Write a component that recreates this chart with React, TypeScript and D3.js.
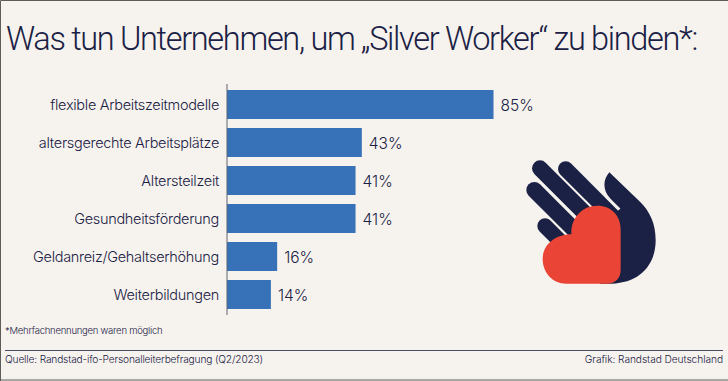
import React from "react";
import * as d3 from "d3";

const categories = ["flexible Arbeitszeitmodelle", "altersgerechte Arbeitsplätze", "Altersteilzeit", "Gesundheitsförderung", "Geldanreiz/Gehaltserhöhung", "Weiterbildungen"];
const values = [85, 43, 41, 41, 16, 14];
const valueLabels = ["85%", "43%", "41%", "41%", "16%", "14%"];
const title = "Was tun Unternehmen, um „Silver Worker“ zu binden*:";
const note = "*Mehrfachnennungen waren möglich";
const source = "Quelle: Randstad-ifo-Personalleiterbefragung (Q2/2023)";
const credit = "Grafik: Randstad Deutschland";

const NAVY = "#1b2145";
const BLUE = "#3771b7";
const RED = "#e94435";
const BG = "#f6f3ee";
const FONT = "Inter, 'Noto Sans', sans-serif";

export default function App() {
  const x = d3.scaleLinear().domain([0, 85]).range([227, 493.5]);
  const y = d3.scaleBand<string>().domain(categories).range([85.5, 313.5]).paddingInner(0.237).paddingOuter(0.1185);
  const fingers: [number, number, number, number, number][] = [
    [197, 87, 345, 235, 46],
    [120, 85, 270, 235, 48],
    [103, 150, 240, 287, 48],
    [135, 258, 200, 323, 46],
  ];
  return (
    <svg width={728} height={381} viewBox="0 0 728 381" style={{ position: "fixed", left: 0, top: 0, display: "block", fontFamily: FONT }}>
      <rect x={0} y={0} width={728} height={381} fill={BG} />
      <path d="M0.5 381V0.5H728M0 380H728" fill="none" stroke="#5c5c58" strokeWidth={1} />
      <text x={6} y={49.5} fontSize={32.5} fontWeight={300} fill={NAVY} letterSpacing={-1.32} style={{ fontFamily: "Roboto, Inter, sans-serif" }}>{title}</text>
      {categories.map((c, i) => (
        <g key={c}>
          <text x={219} y={y(c)! + y.bandwidth() / 2 + 5} textAnchor="end" fontSize={14.5} fontWeight={300} fill={NAVY} letterSpacing={-0.3}>{c}</text>
          <rect x={x(0)} y={y(c)} width={x(values[i]) - x(0)} height={y.bandwidth()} fill={BLUE} />
          <text x={x(values[i]) + 7} y={y(c)! + y.bandwidth() / 2 + 6} fontSize={15.5} fontWeight={300} fill={NAVY}>{valueLabels[i]}</text>
        </g>
      ))}
      <line x1={227} x2={227} y1={84} y2={315} stroke="#5d6470" strokeWidth={1} />
      <text x={5} y={334} fontSize={9.5} fontWeight={300} fill={NAVY} letterSpacing={-0.24}>{note}</text>
      <line x1={5} x2={723} y1={350.5} y2={350.5} stroke="#4a4d60" strokeWidth={1} />
      <text x={5} y={363} fontSize={10.2} fontWeight={300} fill={NAVY} letterSpacing={-0.17}>{source}</text>
      <text x={723} y={363} textAnchor="end" fontSize={10.2} fontWeight={300} fill={NAVY} letterSpacing={-0.07}>{credit}</text>
      <g transform="translate(500,140) scale(0.33333)">
        <path d="M328 97C308 120 308 150 330 175L358 207L345 225L300 431L335 431C420 428 467 375 467 300C467 250 450 215 420 185Z" fill={NAVY} />
        <path d="M345 225L190 340L240 340L345 400Z" fill={NAVY} />
        {fingers.map((f, i) => (
          <line key={i} x1={f[0]} y1={f[1]} x2={f[2]} y2={f[3]} stroke={NAVY} strokeWidth={f[4]} strokeLinecap="round" />
        ))}
        <line x1={318} x2={359} y1={168} y2={208} stroke={BG} strokeWidth={6} />
        <path d="M214 283C212 235 245 197 292 197C335 197 362 228 362 268L362 390C362 415 345 431 322 431L198 431C158 431 128 398 128 357C128 315 165 283 214 283Z" fill={RED} />
      </g>
    </svg>
  );
}
